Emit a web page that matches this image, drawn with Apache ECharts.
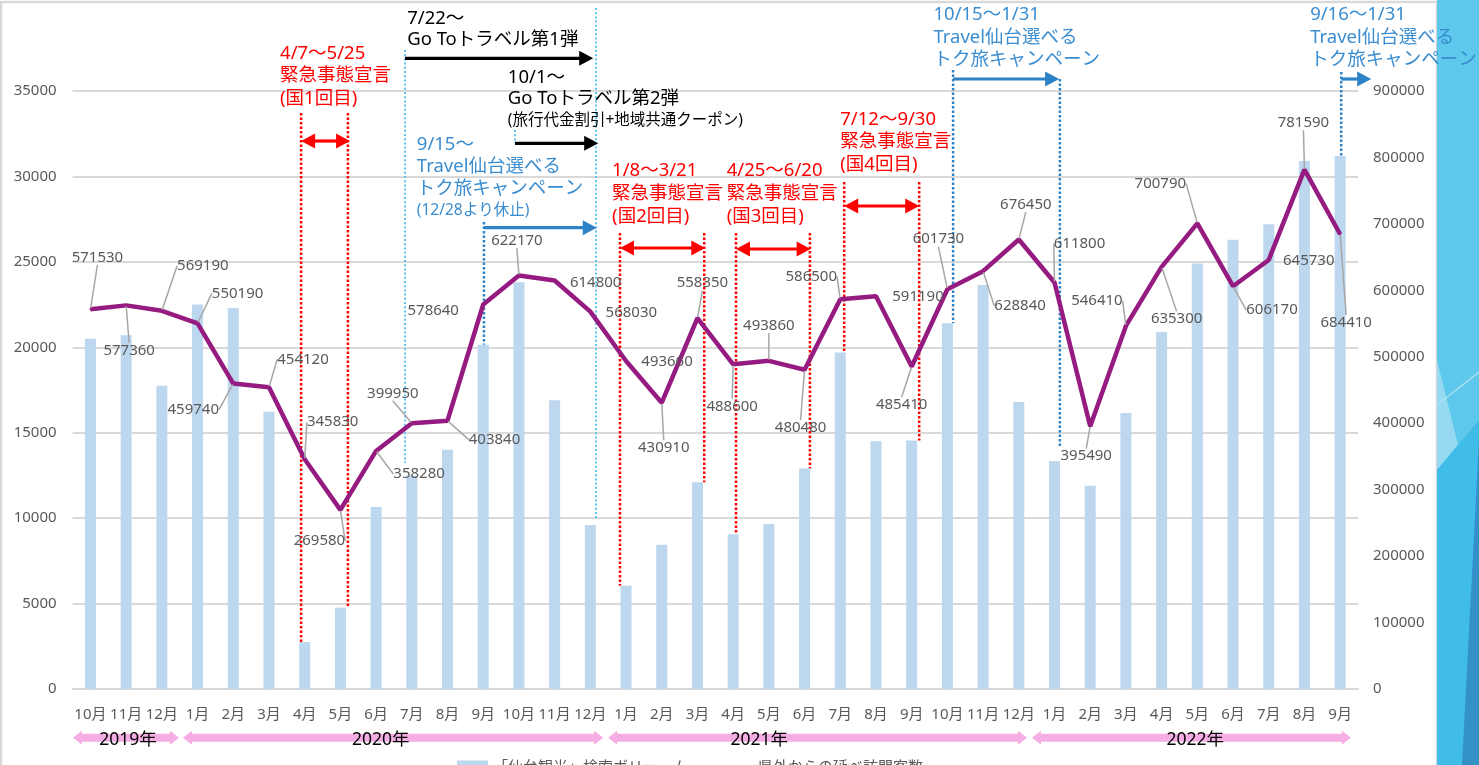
<!DOCTYPE html>
<html>
<head>
<meta charset="utf-8">
<script src="https://cdn.jsdelivr.net/npm/echarts@6/dist/echarts.min.js"></script>
<style>
  html, body { margin: 0; padding: 0; background: #ffffff; }
  #chart { width: 1479px; height: 765px; }
</style>
</head>
<body>
<div id="chart"></div>
<script>
// ---- data ----
const months = ['10月','11月','12月','1月','2月','3月','4月','5月','6月','7月','8月','9月',
                '10月','11月','12月','1月','2月','3月','4月','5月','6月','7月','8月','9月',
                '10月','11月','12月','1月','2月','3月','4月','5月','6月','7月','8月','9月'];

// 「仙台観光」検索ボリューム (left axis)
const searchVolume = [20500, 20700, 17750, 22500, 22300, 16220, 2750, 4760, 10650, 12500, 14000, 20150,
                      23800, 16900, 9600, 6050, 8450, 12100, 9050, 9650, 12900, 19700, 14500, 14550,
                      21400, 23650, 16800, 13350, 11900, 16150, 20900, 24900, 26300, 27200, 30900, 31200];

// 県外からの延べ訪問客数 (right axis)
const visitors = [571530, 577360, 569190, 550190, 459740, 454120, 345830, 269580, 358280, 399950, 403840, 578640,
                  622170, 614800, 568030, 493660, 430910, 558350, 488600, 493860, 480480, 586500, 591190, 485410,
                  601730, 628840, 676450, 611800, 395490, 546410, 635300, 700790, 606170, 645730, 781590, 684410];

const leftAxisRange = [0, 35000, 5000];
const rightAxisRange = [0, 900000, 100000];

const seriesNames = ['「仙台観光」検索ボリューム', '県外からの延べ訪問客数'];

const years = [
  { text: '2019年', from: 0.01, to: 2.98, at: 1.55 },
  { text: '2020年', from: 3.09, to: 14.86, at: 8.63 },
  { text: '2021年', from: 15.0, to: 26.73, at: 19.23 },
  { text: '2022年', from: 26.87, to: 35.8, at: 31.44 }
];

// ---- label placement (offset of each value label from its point, px) ----
const labelOffsets = [
  [7, -52], [3, 45], [41, -45], [40, -30], [-40, 26], [34, -28], [28, -37], [-21, 31], [43, 23], [-19, -30], [47, 19], [-50, 6],
  [-2, -35], [41, 2], [41, 1], [41, 1], [2, 45], [5, -35], [-1, 42], [0, -35], [-4, 58], [-29, -23], [42, 1], [-10, 38],
  [-9, -50], [37, 35], [7, -35], [25, -39], [-4, 30], [-29, -25], [15, 52], [-37, -40], [39, 24], [40, 1], [-1, -47], [6, 88]
];

// ---- period annotations ----
// u: position in months on a hidden axis (0 = left edge of 2019/10), v: left-axis value
const RED = '#ff0000', BLACK = '#000000', BLUE_TEXT = '#3a8dd0', BLUE = '#2e83c6', CYAN = '#5ac4ec';

const noticeTexts = [
  { u: 5.81, v: 37206, gap: 22.5, color: RED, lines: [['4/7〜5/25', 18.5], ['緊急事態宣言', 18.5], ['(国1回目)', 18.5]] },
  { u: 9.37, v: 39256, gap: 21.7, color: BLACK, lines: [['7/22〜', 18.5], ['Go Toトラベル第1弾', 18.5]] },
  { u: 12.19, v: 35801, gap: 21.8, color: BLACK, lines: [['10/1〜', 18.5], ['Go Toトラベル第2弾', 18.5], ['(旅行代金割引+地域共通クーポン)', 15.5]] },
  { u: 9.64, v: 31839, gap: 21.7, color: BLUE_TEXT, lines: [['9/15〜', 18.5], ['Travel仙台選べる', 18.5], ['トク旅キャンペーン', 18.5], ['(12/28より休止)', 15.5]] },
  { u: 15.11, v: 30317, gap: 23, color: RED, lines: [['1/8〜3/21', 18.5], ['緊急事態宣言', 18.5], ['(国2回目)', 18.5]] },
  { u: 18.32, v: 30317, gap: 23, color: RED, lines: [['4/25〜6/20', 18.5], ['緊急事態宣言', 18.5], ['(国3回目)', 18.5]] },
  { u: 21.5, v: 33331, gap: 22.5, color: RED, lines: [['7/12〜9/30', 18.5], ['緊急事態宣言', 18.5], ['(国4回目)', 18.5]] },
  { u: 24.11, v: 39448, gap: 22.5, color: BLUE_TEXT, lines: [['10/15〜1/31', 18.5], ['Travel仙台選べる', 18.5], ['トク旅キャンペーン', 18.5]] },
  { u: 34.66, v: 39448, gap: 22.5, color: BLUE_TEXT, lines: [['9/16〜1/31', 18.5], ['Travel仙台選べる', 18.5], ['トク旅キャンペーン', 18.5]] }
];

// dotted guides: bar = month index whose bar top ends the guide
const guideLines = [
  { u: 6.40, top: 33712, bar: 6, kind: 'red' },
  { u: 7.71, top: 33712, bar: 7, kind: 'red' },
  { u: 15.33, top: 26689, bar: 15, kind: 'red' },
  { u: 17.69, top: 26689, bar: 17, kind: 'red' },
  { u: 18.58, top: 26689, bar: 18, kind: 'red' },
  { u: 20.65, top: 26689, bar: 20, kind: 'red' },
  { u: 21.61, top: 29674, bar: 21, kind: 'red' },
  { u: 23.71, top: 29674, bar: 23, kind: 'red' },
  { u: 9.31, top: 37399, bottom: 13230, kind: 'cyan' },
  { u: 14.66, top: 39858, bottom: 9891, kind: 'cyan' },
  { u: 12.39, top: 32717, bottom: 31956, kind: 'cyan' },
  { u: 11.52, top: 27333, bar: 11, kind: 'blue' },
  { u: 24.66, top: 36229, bar: 24, kind: 'blue' },
  { u: 27.65, top: 35702, bottom: 14164, kind: 'blue' },
  { u: 35.53, top: 36112, bar: 35, kind: 'blue' }
];

const periodArrows = [
  { from: 9.31, to: 14.58, v: 36914, color: BLACK, both: false },
  { from: 12.39, to: 14.72, v: 31939, color: BLACK, both: false },
  { from: 11.52, to: 14.68, v: 26999, color: BLUE, both: false },
  { from: 24.66, to: 27.63, v: 35702, color: BLUE, both: false },
  { from: 35.53, to: 36.37, v: 35702, color: BLUE, both: false },
  { from: 6.40, to: 7.77, v: 32073, color: RED, both: true },
  { from: 15.33, to: 17.72, v: 25811, color: RED, both: true },
  { from: 18.58, to: 20.67, v: 25752, color: RED, both: true },
  { from: 21.61, to: 23.71, v: 28269, color: RED, both: true }
];

const yearRowValue = -2850;
const yearTextValue = -2985;

// ---- styling ----
const FONT = '"Noto Sans", "Noto Sans CJK JP", sans-serif';
const AXIS_GRAY = '#595959';
const GRID_GRAY = '#d9d9d9';
const BAR_BLUE = '#bdd7ee';
const LINE_PURPLE = '#951b81';
const PINK = '#f5aee3';

const plainNumber = v => String(v);

const chart = echarts.init(document.getElementById('chart'), null, { renderer: 'canvas' });

const lineData = visitors.map((v, i) => ({
  value: v,
  labelLine: { show: Math.abs(labelOffsets[i][1]) > 12 }
}));

chart.setOption({
  animation: false,
  backgroundColor: '#ffffff',
  textStyle: { fontFamily: FONT },
  grid: { left: 72.6, right: 121, top: 91, bottom: 76, containLabel: false },
  legend: {
    left: 452, top: 755,
    itemWidth: 31, itemHeight: 14, itemGap: 34,
    textStyle: { fontSize: 15, color: AXIS_GRAY, fontFamily: FONT },
    data: [
      { name: seriesNames[0], icon: 'rect' },
      { name: seriesNames[1], icon: 'path://M0,0H40V5H0Z' }
    ]
  },
  xAxis: [
    {
      type: 'category', data: months, boundaryGap: true,
      axisLine: { lineStyle: { color: GRID_GRAY, width: 2 } },
      axisTick: { show: false },
      axisLabel: { interval: 0, color: AXIS_GRAY, fontSize: 15, margin: 18, fontFamily: FONT }
    },
    { type: 'value', min: 0, max: 36, show: false }
  ],
  yAxis: [
    {
      type: 'value', min: leftAxisRange[0], max: leftAxisRange[1], interval: leftAxisRange[2],
      axisLine: { show: false }, axisTick: { show: false },
      axisLabel: { color: AXIS_GRAY, fontSize: 15, margin: 16, fontFamily: FONT, formatter: plainNumber },
      splitLine: { lineStyle: { color: GRID_GRAY, width: 2 } }
    },
    {
      type: 'value', min: rightAxisRange[0], max: rightAxisRange[1], interval: rightAxisRange[2],
      position: 'right',
      axisLine: { show: false }, axisTick: { show: false },
      axisLabel: { color: AXIS_GRAY, fontSize: 15, margin: 15, fontFamily: FONT, formatter: plainNumber },
      splitLine: { show: false }
    }
  ],
  series: [
    {
      name: seriesNames[0], type: 'bar', xAxisIndex: 0, yAxisIndex: 0,
      data: searchVolume, barWidth: 11,
      itemStyle: { color: BAR_BLUE }, z: 2
    },
    {
      name: seriesNames[1], type: 'line', xAxisIndex: 0, yAxisIndex: 1,
      data: lineData,
      symbol: 'circle', symbolSize: 2, showSymbol: true,
      itemStyle: { color: LINE_PURPLE },
      lineStyle: { color: LINE_PURPLE, width: 4.5 },
      z: 3,
      label: {
        show: true, position: 'inside', color: AXIS_GRAY, fontSize: 15, fontFamily: FONT
      },
      labelLine: { show: true, lineStyle: { color: '#a6a6a6', width: 1.5 } },
      labelLayout: function (p) {
        const o = labelOffsets[p.dataIndex];
        return { dx: o[0], dy: o[1] };
      }
    }
  ]
});

function buildGraphics() {
  const P = (u, v) => chart.convertToPixel({ xAxisIndex: 1, yAxisIndex: 0 }, [u, v]);
  const els = [];

  // frame of the chart area
  els.push({ type: 'rect', silent: true, z: 0, shape: { x: 1, y: 2, width: 1436, height: 790 },
             style: { fill: 'none', stroke: GRID_GRAY, lineWidth: 2.5 } });

  // decorative panel on the right edge
  els.push({ type: 'rect', silent: true, z: 0, shape: { x: 1437, y: 0, width: 42, height: 765 }, style: { fill: '#5ec7ec' } });
  els.push({ type: 'polygon', silent: true, z: 0, shape: { points: [[1437, 360], [1458, 445], [1437, 470]] }, style: { fill: 'rgba(255,255,255,0.35)' } });
  els.push({ type: 'polygon', silent: true, z: 0, shape: { points: [[1437, 470], [1458, 445], [1479, 420], [1479, 765], [1437, 765]] }, style: { fill: '#40bce9' } });
  els.push({ type: 'polygon', silent: true, z: 0, shape: { points: [[1479, 440], [1462, 765], [1479, 765]] }, style: { fill: '#3391c8' } });
  els.push({ type: 'line', silent: true, z: 0, shape: { x1: 1437, y1: 405, x2: 1479, y2: 372 }, style: { stroke: '#a9e1f5', lineWidth: 1.5 } });

  // dotted guide lines
  const guideStyle = {
    red: { stroke: RED, lineWidth: 2.5, lineDash: [2.5, 2] },
    cyan: { stroke: CYAN, lineWidth: 2, lineDash: [2, 2.2] },
    blue: { stroke: BLUE, lineWidth: 2.5, lineDash: [2.5, 2] }
  };
  guideLines.forEach(g => {
    const bottom = g.bar != null ? searchVolume[g.bar] : g.bottom;
    const a = P(g.u, g.top), b = P(g.u, bottom);
    els.push({ type: 'line', silent: true, z: 1,
               shape: { x1: a[0], y1: a[1], x2: b[0], y2: b[1] },
               style: Object.assign({ fill: null }, guideStyle[g.kind]) });
  });

  // period arrows
  const L = 14, H = 7.5;
  periodArrows.forEach(a => {
    const p0 = P(a.from, a.v), p1 = P(a.to, a.v);
    const y = p0[1];
    const xs = a.both ? p0[0] + L - 1 : p0[0];
    els.push({ type: 'line', silent: true, z: 4,
               shape: { x1: xs, y1: y, x2: p1[0] - L + 1, y2: y },
               style: { stroke: a.color, lineWidth: 3.2 } });
    els.push({ type: 'polygon', silent: true, z: 4,
               shape: { points: [[p1[0], y], [p1[0] - L, y - H], [p1[0] - L, y + H]] },
               style: { fill: a.color } });
    if (a.both) {
      els.push({ type: 'polygon', silent: true, z: 4,
                 shape: { points: [[p0[0], y], [p0[0] + L, y - H], [p0[0] + L, y + H]] },
                 style: { fill: a.color } });
    }
  });

  // annotation texts
  noticeTexts.forEach(t => {
    const p = P(t.u, t.v);
    t.lines.forEach((ln, k) => {
      els.push({ type: 'text', silent: true, z: 5,
                 style: { text: ln[0], x: p[0], y: p[1] + k * t.gap,
                          font: ln[1] + 'px ' + FONT, fill: t.color,
                          textAlign: 'left', textVerticalAlign: 'middle' } });
    });
  });

  // year bands under the month labels
  const h = 4, HH = 7, LL = 9;
  years.forEach(yr => {
    const a = P(yr.from, yearRowValue), b = P(yr.to, yearRowValue);
    const x0 = a[0], x1 = b[0], yc = a[1];
    els.push({ type: 'polygon', silent: true, z: 4,
               shape: { points: [[x0, yc], [x0 + LL, yc - HH], [x0 + LL, yc - h], [x1 - LL, yc - h], [x1 - LL, yc - HH],
                                 [x1, yc], [x1 - LL, yc + HH], [x1 - LL, yc + h], [x0 + LL, yc + h], [x0 + LL, yc + HH]] },
               style: { fill: PINK } });
    const tp = P(yr.at, yearTextValue);
    els.push({ type: 'text', silent: true, z: 5,
               style: { text: yr.text, x: tp[0], y: tp[1], font: '17.5px ' + FONT, fill: '#000000',
                        textAlign: 'center', textVerticalAlign: 'middle' } });
  });

  return els;
}

chart.setOption({ graphic: { elements: buildGraphics() } });
</script>
</body>
</html>
